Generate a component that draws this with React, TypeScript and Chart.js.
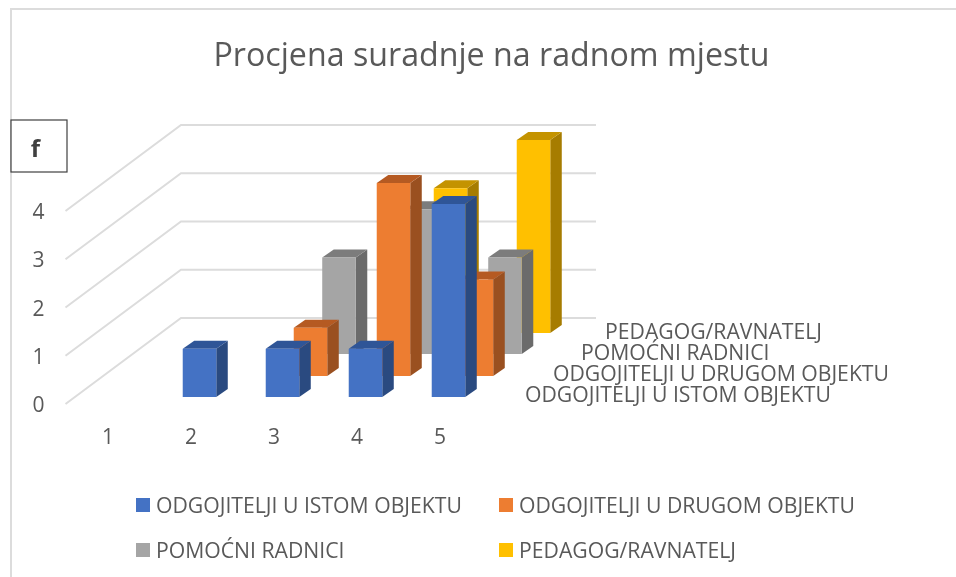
import React, { useEffect, useRef } from "react";
import { Chart, registerables } from "chart.js";

Chart.register(...registerables);

const categories = ["1", "2", "3", "4", "5"];
const titleText = "Procjena suradnje na radnom mjestu";
const axisCaption = "f";

const istomObjektu = [0, 1, 1, 1, 4];
const drugomObjektu = [0, 0, 1, 4, 2];
const pomocniRadnici = [0, 0, 2, 3, 2];
const pedagogRavnatelj = [0, 0, 0, 3, 4];

const seriesNames = [
  "ODGOJITELJI U ISTOM OBJEKTU",
  "ODGOJITELJI U DRUGOM OBJEKTU",
  "POMOĆNI RADNICI",
  "PEDAGOG/RAVNATELJ",
];

const FONT = "'Open Sans', sans-serif";
const TEXT = "#595959";
const GRID = "#dcdcdc";
const LABEL_PX = 21.2;

const front = ["#4472C4", "#ED7D31", "#A5A5A5", "#FFC000"];
const side = ["#2A4A80", "#9A5020", "#6B6B6B", "#A67C00"];
const top = ["#2F5597", "#B55A22", "#7C7C7C", "#C49300"];

// depth offset of each series row, in pixels
const rowDx = [8.5, 36.5, 65, 93.5];
const rowDy = [-7, -28, -50, -71];
const BAR_DX = 11.5;
const BAR_DY = -8;
const WALL_DX = 114.5;
const WALL_DY = -86;

// left end of the series-name labels on the depth axis
const depthLabelX = [525, 553, 581, 605];
const depthLabelY = [395.5, 374.5, 353.5, 332.5];

const legendX = [136, 499, 136, 499];
const legendY = [505, 505, 550, 550];

const threeD = {
  id: "threeD",
  beforeDraw(chart: any) {
    const { ctx, width, height } = chart;
    ctx.save();
    ctx.strokeStyle = GRID;
    ctx.lineWidth = 2;
    ctx.beginPath();
    ctx.moveTo(11, height);
    ctx.lineTo(11, 9);
    ctx.lineTo(width, 9);
    ctx.stroke();
    ctx.restore();
  },
  afterLayout(chart: any) {
    // the title is centred on the plot frame, which sits right of the canvas centre
    chart.titleBlock.left = 27;
    chart.titleBlock.right = chart.width;
  },
  beforeDatasetsDraw(chart: any) {
    const { ctx, scales } = chart;
    const y = scales.y;
    const { left, right } = chart.chartArea;
    ctx.save();
    ctx.strokeStyle = GRID;
    ctx.lineWidth = 2;
    y.ticks.forEach((t: any) => {
      const py = y.getPixelForValue(t.value);
      ctx.beginPath();
      ctx.moveTo(left - 1, py);
      ctx.lineTo(left + WALL_DX, py + WALL_DY);
      ctx.lineTo(right + WALL_DX, py + WALL_DY);
      ctx.stroke();
    });
    ctx.restore();
  },
  beforeDatasetDraw(chart: any, args: any) {
    const { ctx } = chart;
    const i = args.index;
    ctx.save();
    ctx.translate(rowDx[i], rowDy[i]);
    args.meta.data.forEach((bar: any) => {
      const { x, y, base, width } = bar.getProps(["x", "y", "base", "width"], true);
      if (Math.abs(base - y) < 0.5) return;
      const l = x - width / 2;
      const r = x + width / 2;
      ctx.fillStyle = side[i];
      ctx.beginPath();
      ctx.moveTo(r, y);
      ctx.lineTo(r + BAR_DX, y + BAR_DY);
      ctx.lineTo(r + BAR_DX, base + BAR_DY);
      ctx.lineTo(r, base);
      ctx.closePath();
      ctx.fill();
      ctx.fillStyle = top[i];
      ctx.beginPath();
      ctx.moveTo(l, y);
      ctx.lineTo(l + BAR_DX, y + BAR_DY);
      ctx.lineTo(r + BAR_DX, y + BAR_DY);
      ctx.lineTo(r, y);
      ctx.closePath();
      ctx.fill();
    });
  },
  afterDatasetDraw(chart: any) {
    chart.ctx.restore();
  },
  afterDraw(chart: any) {
    const { ctx } = chart;
    ctx.save();
    ctx.font = `${LABEL_PX}px ${FONT}`;
    ctx.textBaseline = "middle";
    ctx.textAlign = "left";
    seriesNames.forEach((name, i) => {
      ctx.fillStyle = TEXT;
      ctx.fillText(name, depthLabelX[i], depthLabelY[i]);
      ctx.fillStyle = front[i];
      ctx.fillRect(legendX[i], legendY[i] - 7, 14, 14);
      ctx.fillStyle = TEXT;
      ctx.fillText(name, legendX[i] + 20, legendY[i] + 1.5);
    });
    ctx.fillStyle = "#ffffff";
    ctx.fillRect(11, 120, 56, 52);
    ctx.strokeStyle = "#404040";
    ctx.lineWidth = 1.2;
    ctx.strokeRect(11, 120, 56, 52);
    ctx.fillStyle = "#404040";
    ctx.font = `bold 24px ${FONT}`;
    ctx.textAlign = "center";
    ctx.fillText(axisCaption, 35.5, 150);
    ctx.restore();
  },
};

export default function App() {
  const ref = useRef<HTMLCanvasElement>(null);
  useEffect(() => {
    const seriesValues = [istomObjektu, drugomObjektu, pomocniRadnici, pedagogRavnatelj];
    const chart = new Chart(ref.current as HTMLCanvasElement, {
      type: "bar",
      data: {
        labels: categories,
        datasets: seriesNames.map((label, i) => ({
          label,
          data: seriesValues[i],
          backgroundColor: front[i],
          borderWidth: 0,
          grouped: false,
          barPercentage: 0.404,
          categoryPercentage: 1,
          clip: false as any,
        })),
      },
      options: {
        animation: false,
        responsive: false,
        layout: { padding: { left: 0, top: 0, right: 474.5, bottom: 128 } },
        plugins: {
          legend: { display: false },
          tooltip: { enabled: false },
          title: {
            display: true,
            text: titleText,
            color: TEXT,
            font: { family: FONT, size: 32.2, weight: "normal" },
            padding: { top: 37.7, bottom: 134.7 },
          },
        },
        scales: {
          x: {
            grid: { display: false, drawTicks: false },
            border: { display: false },
            ticks: { color: TEXT, font: { family: FONT, size: 21 }, padding: 21, maxRotation: 0 },
            afterFit(s: any) {
              s.height = 45;
            },
          },
          y: {
            min: 0,
            max: 4,
            grid: { display: false, drawTicks: false },
            border: { display: false },
            ticks: {
              stepSize: 1,
              color: TEXT,
              font: { family: FONT, size: 21 },
              padding: 22,
              labelOffset: 2,
            },
            afterFit(s: any) {
              s.width = 66.5;
            },
          },
        },
      } as any,
      plugins: [threeD],
    });
    return () => chart.destroy();
  }, []);
  return (
    <div style={{ position: "absolute", left: 0, top: 0, width: 956, height: 577, background: "#fff" }}>
      <canvas ref={ref} width={956} height={577} style={{ display: "block" }} />
    </div>
  );
}
